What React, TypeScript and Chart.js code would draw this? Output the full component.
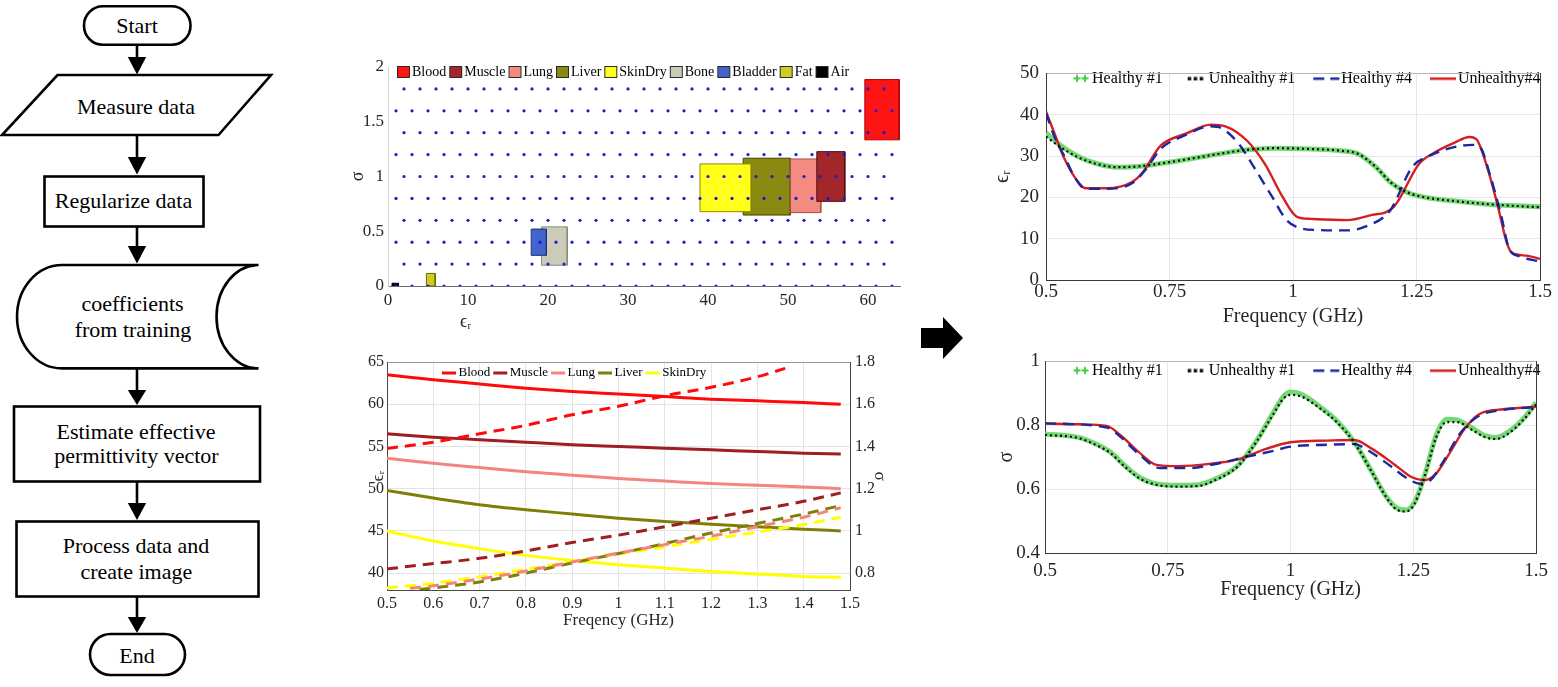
import React, { useEffect, useRef } from 'react';
import { Chart, registerables } from 'chart.js';

Chart.register(...registerables);

const SERIF = '"Liberation Serif", "Times New Roman", Times, serif';
const TXT = '#262626';
Chart.defaults.font.family = SERIF;

// ================= Chart A : tissue map (eps_r vs sigma) =================
const tissueNames = ['Blood', 'Muscle', 'Lung', 'Liver', 'SkinDry', 'Bone', 'Bladder', 'Fat', 'Air'];
const epsMin = [59.6, 53.6, 50.3, 44.4, 39.0, 19.2, 17.9, 4.8, 0.5];
const epsMax = [63.9, 57.1, 54.1, 50.3, 45.4, 22.4, 19.8, 5.9, 1.3];
const sigMin = [1.335, 0.773, 0.67, 0.648, 0.679, 0.19, 0.28, 0, 0];
const sigMax = [1.885, 1.227, 1.16, 1.167, 1.115, 0.54, 0.52, 0.115, 0.025];
const tissueFill = ['#ff1414', '#a3262a', '#f48a80', '#8a8a12', '#ffff1a', '#cbcbb8', '#4364cc', '#cccc22', '#000000'];
const tissueEdge = ['#b00000', '#4a0c0c', '#a85048', '#3f3f00', '#8a8a00', '#8a8a7a', '#1c3070', '#6a6a00', '#000000'];
const tissueLayer = [3, 1, 4, 5, 2, 7, 6, 8, 9];

const gridEvenX = [2, 4, 6, 8, 10, 12, 14, 16, 18, 20, 22, 24, 26, 28, 30, 32, 34, 36, 38, 40, 42, 44, 46, 48, 50, 52, 54, 56, 58, 60, 62];
const gridOddX = [1, 3, 5, 7, 9, 11, 13, 15, 17, 19, 21, 23, 25, 27, 29, 31, 33, 35, 37, 39, 41, 43, 45, 47, 49, 51, 53, 55, 57, 59, 61, 63];
const gridEvenRows = [1.8, 1.4, 1.0, 0.6, 0.2];
const gridOddRows = [1.6, 1.2, 0.8, 0.4, 0];
const mapXTicks = [0, 10, 20, 30, 40, 50, 60];
const mapYTicks = [0, 0.5, 1, 1.5, 2];

// ================= Chart B : tissue properties vs frequency =================
const lineTissues = ['Blood', 'Muscle', 'Lung', 'Liver', 'SkinDry'];
const lineColors = ['#ff0a0a', '#9e1e22', '#f4857c', '#7f7f08', '#ffff00'];
const freqB = [0.5, 0.6, 0.7, 0.8, 0.9, 1.0, 1.1, 1.2, 1.3, 1.4, 1.48];
const epsBlood = [63.5, 62.9, 62.4, 61.9, 61.5, 61.2, 60.9, 60.6, 60.4, 60.2, 60.0];
const epsMuscle = [56.5, 56.1, 55.8, 55.5, 55.2, 55.0, 54.8, 54.6, 54.4, 54.2, 54.1];
const epsLung = [53.6, 53.0, 52.5, 52.0, 51.6, 51.2, 50.9, 50.6, 50.4, 50.2, 50.0];
const epsLiver = [49.8, 48.9, 48.1, 47.5, 47.0, 46.5, 46.1, 45.8, 45.5, 45.2, 45.0];
const epsSkin = [45.0, 43.8, 42.9, 42.1, 41.5, 41.0, 40.6, 40.2, 39.9, 39.6, 39.5];
const freqSigBlood = [0.5, 0.6, 0.7, 0.8, 0.9, 1.0, 1.1, 1.2, 1.3, 1.36];
const sigBlood = [1.39, 1.42, 1.46, 1.5, 1.55, 1.59, 1.64, 1.68, 1.73, 1.77];
const sigMuscle = [0.82, 0.845, 0.87, 0.905, 0.945, 0.98, 1.02, 1.06, 1.1, 1.14, 1.18];
const freqSigLung = [0.55, 0.6, 0.7, 0.8, 0.9, 1.0, 1.1, 1.2, 1.3, 1.4, 1.48];
const sigLung = [0.728, 0.74, 0.772, 0.81, 0.853, 0.895, 0.935, 0.975, 1.02, 1.065, 1.11];
const freqSigLiver = [0.57, 0.6, 0.7, 0.8, 0.9, 1.0, 1.1, 1.2, 1.3, 1.4, 1.48];
const sigLiver = [0.722, 0.73, 0.758, 0.8, 0.848, 0.893, 0.94, 0.99, 1.035, 1.08, 1.12];
const sigSkin = [0.73, 0.752, 0.783, 0.818, 0.855, 0.89, 0.925, 0.96, 0.995, 1.03, 1.065];
const freqTicksB = [0.5, 0.6, 0.7, 0.8, 0.9, 1, 1.1, 1.2, 1.3, 1.4, 1.5];
const epsTicksB = [40, 45, 50, 55, 60, 65];
const sigTicksB = [0.8, 1, 1.2, 1.4, 1.6, 1.8];

// ================= Charts C/D : reconstruction results =================
const resultNames = ['Healthy #1', 'Unhealthy #1', 'Healthy #4', 'Unhealthy#4'];
const freqC1 = [0.5, 0.529, 0.565, 0.602, 0.645, 0.689, 0.732, 0.79, 0.849, 0.907, 0.965, 1.037, 1.095, 1.132, 1.168, 1.197, 1.226, 1.255, 1.328, 1.4, 1.5];
const healthy1Eps = [35.6, 32.6, 29.9, 28.2, 27.3, 27.5, 28.2, 29.3, 30.5, 31.5, 31.9, 31.7, 31.3, 30.5, 27.3, 23.7, 21.5, 20.3, 19.1, 18.3, 17.7];
const unhealthy1Eps = [34.7, 32.2, 29.7, 28.1, 27.3, 27.5, 28.2, 29.3, 30.5, 31.5, 31.9, 31.7, 31.3, 30.5, 27.3, 23.7, 21.5, 20.3, 19.1, 18.3, 17.6];
const freqC4h = [0.5, 0.518, 0.54, 0.558, 0.58, 0.623, 0.674, 0.703, 0.732, 0.783, 0.834, 0.856, 0.892, 0.921, 0.958, 0.987, 1.016, 1.052, 1.11, 1.146, 1.197, 1.241, 1.277, 1.328, 1.364, 1.379, 1.4, 1.422, 1.437, 1.459, 1.5];
const healthy4Eps = [40.4, 34.4, 29.3, 24.9, 22.1, 22.1, 23.4, 26.9, 31.7, 35.1, 37.2, 36.7, 32.7, 27.3, 20.1, 14.5, 12.5, 12.1, 12.0, 12.9, 16.9, 27.3, 30.1, 32.2, 32.7, 32.1, 24.9, 15.3, 7.7, 5.7, 4.5];
const freqC4u = [0.5, 0.518, 0.536, 0.558, 0.58, 0.623, 0.674, 0.696, 0.732, 0.783, 0.834, 0.863, 0.907, 0.943, 0.979, 1.008, 1.037, 1.11, 1.154, 1.204, 1.255, 1.284, 1.328, 1.357, 1.371, 1.393, 1.415, 1.433, 1.444, 1.473, 1.5];
const unhealthy4Eps = [40.8, 35.2, 29.7, 24.9, 22.2, 22.2, 23.7, 26.1, 32.5, 35.4, 37.6, 37.2, 33.7, 28.1, 20.1, 15.3, 14.8, 14.5, 15.6, 17.7, 28.1, 30.7, 33.3, 34.6, 34.1, 27.3, 17.7, 8.9, 6.5, 5.9, 5.1];

const freqD1 = [0.5, 0.568, 0.604, 0.633, 0.662, 0.691, 0.72, 0.77, 0.813, 0.849, 0.893, 0.929, 0.965, 0.986, 1.0, 1.022, 1.058, 1.094, 1.13, 1.166, 1.195, 1.217, 1.235, 1.253, 1.275, 1.296, 1.318, 1.339, 1.368, 1.397, 1.419, 1.447, 1.476, 1.5];
const healthy1Sig = [0.773, 0.762, 0.741, 0.716, 0.674, 0.638, 0.619, 0.612, 0.614, 0.633, 0.674, 0.747, 0.84, 0.891, 0.904, 0.897, 0.86, 0.814, 0.747, 0.653, 0.576, 0.54, 0.535, 0.56, 0.653, 0.767, 0.819, 0.817, 0.793, 0.767, 0.762, 0.783, 0.824, 0.871];
const unhealthy1Sig = [0.77, 0.76, 0.738, 0.713, 0.671, 0.635, 0.616, 0.608, 0.61, 0.63, 0.672, 0.745, 0.835, 0.884, 0.895, 0.89, 0.855, 0.81, 0.745, 0.652, 0.574, 0.535, 0.53, 0.556, 0.65, 0.76, 0.81, 0.81, 0.787, 0.762, 0.757, 0.778, 0.82, 0.865];
const freqD4h = [0.5, 0.626, 0.655, 0.691, 0.734, 0.792, 0.857, 0.907, 0.965, 1.0, 1.073, 1.13, 1.159, 1.202, 1.238, 1.264, 1.285, 1.31, 1.347, 1.383, 1.433, 1.5];
const healthy4Sig = [0.806, 0.793, 0.762, 0.71, 0.666, 0.666, 0.682, 0.7, 0.72, 0.733, 0.739, 0.741, 0.72, 0.674, 0.633, 0.617, 0.628, 0.684, 0.778, 0.829, 0.848, 0.857];
const freqD4u = [0.5, 0.568, 0.626, 0.655, 0.691, 0.727, 0.77, 0.835, 0.893, 0.95, 1.0, 1.073, 1.13, 1.166, 1.21, 1.246, 1.271, 1.296, 1.325, 1.354, 1.383, 1.433, 1.5];
const unhealthy4Sig = [0.806, 0.803, 0.798, 0.767, 0.716, 0.676, 0.672, 0.679, 0.693, 0.726, 0.747, 0.752, 0.754, 0.726, 0.679, 0.638, 0.628, 0.648, 0.716, 0.788, 0.834, 0.85, 0.858];
const freqTicksR = [0.5, 0.75, 1, 1.25, 1.5];
const epsTicksR = [0, 10, 20, 30, 40, 50];
const sigTicksR = [0.4, 0.6, 0.8, 1];

// ================= helpers =================
const pts = (xs: number[], ys: number[]) => xs.map((x, i) => ({ x, y: ys[i] }));
const setTicks = (vals: number[]) => (s: any) => { s.ticks = vals.map((v) => ({ value: v })); };
const fixW = (w: number) => (s: any) => { s.width = w; };
const fixH = (h: number) => (s: any) => { s.height = h; };

function makeMarker(W: number, H: number, pw: number, draw: (g: CanvasRenderingContext2D, x0: number, w: number, h: number) => void) {
  const c = document.createElement('canvas');
  c.width = 2 * W;
  c.height = H;
  const g = c.getContext('2d') as CanvasRenderingContext2D;
  draw(g, Math.round(W - pw / 2), W, H);
  return c;
}

function legendCfg(texts: string[], markers: HTMLCanvasElement[], fontSize: number, pw: number, pad: number) {
  return {
    display: true,
    position: 'top',
    align: 'start',
    labels: {
      usePointStyle: true,
      pointStyleWidth: pw,
      boxHeight: fontSize,
      padding: pad,
      font: { size: fontSize, family: SERIF },
      color: TXT,
      generateLabels: () =>
        texts.map((t, i) => ({
          text: t,
          pointStyle: markers[i],
          fillStyle: 'rgba(0,0,0,0)',
          strokeStyle: 'rgba(0,0,0,0)',
          lineWidth: 0,
          hidden: false,
          datasetIndex: i,
        })),
    },
  };
}

function placeLegend(dx: number, dy: number, fontSize: number, pad: number) {
  return {
    id: 'placeLegend',
    beforeLayout(chart: any) {
      const lg = chart.legend;
      if (lg && !lg._flat) {
        const fit = lg.fit;
        lg.fit = function () {
          fit.call(this);
          this.height = 0;
        };
        lg._flat = true;
      }
    },
    afterLayout(chart: any) {
      const lg = chart.legend;
      if (!lg) return;
      const ca = chart.chartArea;
      lg.left = ca.left + dx - pad;
      lg.right = chart.width + 300;
      lg.top = ca.top + dy - fontSize / 2 - pad;
      lg.bottom = lg.top + fontSize + 2 * pad + 20;
      lg.width = lg.right - lg.left;
      lg.height = lg.bottom - lg.top;
    },
  };
}

const tickFont = (size: number) => ({ size, family: SERIF });
const fmt = (v: any) => String(v);

// ================= chart builders =================
function buildMap(): any {
  const markers = tissueNames.map((_, i) =>
    makeMarker(13, 12, 8, (g, x0, w) => {
      g.fillStyle = tissueFill[i];
      g.fillRect(x0, 0.5, w, 11);
      g.strokeStyle = '#2a2a2a';
      g.lineWidth = 1;
      g.strokeRect(x0 + 0.5, 0.5, w - 1, 11);
    })
  );
  const dots = [
    ...gridEvenRows.flatMap((yv) => gridEvenX.map((xv) => ({ x: xv, y: yv }))),
    ...gridOddRows.flatMap((yv) => gridOddX.map((xv) => ({ x: xv, y: yv }))),
  ];
  const datasets: any[] = [
    { label: 'grid', data: dots, showLine: false, pointRadius: 1.6, pointBackgroundColor: '#1a1ad8', pointBorderWidth: 0, order: 0 },
  ];
  tissueNames.forEach((name, i) => {
    datasets.push({
      label: name + ' edge',
      data: [
        { x: epsMin[i], y: sigMin[i] },
        { x: epsMin[i], y: sigMax[i] },
        { x: epsMax[i], y: sigMax[i] },
        { x: epsMax[i], y: sigMin[i] },
        { x: epsMin[i], y: sigMin[i] },
      ],
      borderColor: tissueEdge[i],
      borderWidth: 1,
      pointRadius: 0,
      fill: false,
      order: tissueLayer[i],
    });
    datasets.push({
      label: name,
      data: [
        { x: epsMin[i], y: sigMax[i] },
        { x: epsMax[i], y: sigMax[i] },
      ],
      borderWidth: 0,
      pointRadius: 0,
      backgroundColor: tissueFill[i],
      fill: { value: sigMin[i] },
      order: tissueLayer[i],
    });
  });
  return {
    type: 'line',
    data: { datasets },
    options: {
      responsive: false,
      animation: false,
      devicePixelRatio: 1,
      layout: { padding: { top: 17, right: 20, left: 0, bottom: 0 } },
      plugins: { legend: legendCfg(tissueNames, markers, 14, 8, 3), tooltip: { enabled: false } },
      scales: {
        x: {
          type: 'linear',
          min: 0,
          max: 64,
          afterBuildTicks: setTicks(mapXTicks),
          afterFit: fixH(54),
          grid: { display: false, drawTicks: false },
          border: { display: true, color: '#6b6b6b', width: 1 },
          ticks: { padding: 4, font: tickFont(17), color: TXT, callback: fmt },
          title: { display: true, text: '                \u03f5\u1d63', align: 'start', font: { size: 18, family: SERIF }, color: TXT, padding: { top: 0, bottom: 7 } },
        },
        y: {
          type: 'linear',
          min: 0,
          max: 2,
          afterBuildTicks: setTicks(mapYTicks),
          afterFit: fixW(48),
          grid: { display: false, drawTicks: false },
          border: { display: true, color: '#d2d2d2', width: 1 },
          ticks: { padding: 4, font: tickFont(17), color: TXT, callback: fmt },
          title: { display: true, text: '\u03c3', font: { size: 18, family: SERIF }, color: TXT, padding: { top: 7, bottom: 0 } },
        },
      },
    },
    plugins: [placeLegend(9, 5, 14, 3)],
  };
}

function buildTissueLines(): any {
  const markers = lineColors.map((c) =>
    makeMarker(14, 6, 10, (g, x0, w) => {
      g.fillStyle = c;
      g.fillRect(x0, 1.5, w, 3);
    })
  );
  const epsSets = [epsBlood, epsMuscle, epsLung, epsLiver, epsSkin];
  const sigSets = [
    pts(freqSigBlood, sigBlood),
    pts(freqB, sigMuscle),
    pts(freqSigLung, sigLung),
    pts(freqSigLiver, sigLiver),
    pts(freqB, sigSkin),
  ];
  const datasets: any[] = [];
  lineTissues.forEach((name, i) => {
    datasets.push({
      label: name,
      data: pts(freqB, epsSets[i]),
      yAxisID: 'y',
      borderColor: lineColors[i],
      borderWidth: 3,
      pointRadius: 0,
      cubicInterpolationMode: 'monotone',
      fill: false,
      order: 1,
    });
  });
  lineTissues.forEach((name, i) => {
    datasets.push({
      label: name + ' sigma',
      data: sigSets[i],
      yAxisID: 'y1',
      borderColor: lineColors[i],
      borderWidth: 3,
      borderDash: [11, 7],
      pointRadius: 0,
      cubicInterpolationMode: 'monotone',
      fill: false,
      order: 0,
    });
  });
  return {
    type: 'line',
    data: { datasets },
    options: {
      responsive: false,
      animation: false,
      devicePixelRatio: 1,
      layout: { padding: { top: 17, right: 0, left: 0, bottom: 0 } },
      plugins: { legend: legendCfg(lineTissues, markers, 13, 10, 3), tooltip: { enabled: false } },
      scales: {
        x: {
          type: 'linear',
          min: 0.5,
          max: 1.5,
          afterBuildTicks: setTicks(freqTicksB),
          afterFit: fixH(45),
          grid: { display: true, color: '#e4e4e4', drawTicks: false },
          border: { display: true, color: '#4a4a4a', width: 1 },
          ticks: { padding: 4, font: tickFont(16), color: TXT, callback: fmt },
          title: { display: true, text: 'Freqency (GHz)', font: { size: 17, family: SERIF }, color: TXT, padding: { top: 0, bottom: 4 } },
        },
        x2: {
          type: 'linear',
          position: 'top',
          min: 0.5,
          max: 1.5,
          afterFit: fixH(0),
          grid: { display: false, drawTicks: false },
          border: { display: true, color: '#9a9a9a', width: 1 },
          ticks: { display: false },
        },
        y: {
          type: 'linear',
          position: 'left',
          min: 38,
          max: 65,
          afterBuildTicks: setTicks(epsTicksB),
          afterFit: fixW(47),
          grid: { display: true, color: '#e4e4e4', drawTicks: false },
          border: { display: true, color: '#4a4a4a', width: 1 },
          ticks: { padding: 3, font: tickFont(16), color: TXT, callback: fmt },
          title: { display: true, text: '\u03f5\u1d63', font: { size: 17, family: SERIF }, color: TXT, padding: { top: 28, bottom: 0 } },
        },
        y1: {
          type: 'linear',
          position: 'right',
          min: 0.72,
          max: 1.8,
          afterBuildTicks: setTicks(sigTicksB),
          afterFit: fixW(50),
          grid: { display: false, drawTicks: false },
          border: { display: true, color: '#4a4a4a', width: 1 },
          ticks: { padding: 5, font: tickFont(16), color: TXT, callback: fmt },
          title: { display: true, text: '\u03c3', font: { size: 17, family: SERIF }, color: TXT, padding: { top: 10, bottom: 0 } },
        },
      },
    },
    plugins: [placeLegend(55, 11, 13, 3)],
  };
}

function resultMarkers() {
  const W = 26;
  const pw = 20;
  return [
    makeMarker(W, 12, pw, (g, x0) => {
      g.strokeStyle = '#3fcf3f';
      g.lineWidth = 2;
      [x0 + 13, x0 + 21].forEach((cx) => {
        g.beginPath();
        g.moveTo(cx - 3.5, 6);
        g.lineTo(cx + 3.5, 6);
        g.moveTo(cx, 2.5);
        g.lineTo(cx, 9.5);
        g.stroke();
      });
    }),
    makeMarker(W, 12, pw, (g, x0) => {
      g.fillStyle = '#111111';
      [x0 + 7, x0 + 13, x0 + 19].forEach((cx) => g.fillRect(cx, 4.5, 3.5, 3.5));
    }),
    makeMarker(W, 12, pw, (g, x0) => {
      g.fillStyle = '#1c28a0';
      g.fillRect(x0, 5, 11, 2.5);
      g.fillRect(x0 + 17, 5, 9, 2.5);
    }),
    makeMarker(W, 12, pw, (g, x0, w) => {
      g.fillStyle = '#d42020';
      g.fillRect(x0, 5, w, 2.5);
    }),
  ];
}

function buildResult(kind: 'eps' | 'sig'): any {
  const isEps = kind === 'eps';
  const h1 = isEps ? pts(freqC1, healthy1Eps) : pts(freqD1, healthy1Sig);
  const u1 = isEps ? pts(freqC1, unhealthy1Eps) : pts(freqD1, unhealthy1Sig);
  const h4 = isEps ? pts(freqC4h, healthy4Eps) : pts(freqD4h, healthy4Sig);
  const u4 = isEps ? pts(freqC4u, unhealthy4Eps) : pts(freqD4u, unhealthy4Sig);
  const datasets = [
    { label: resultNames[0], data: h1, borderColor: '#74d874', borderWidth: 5, pointRadius: 0, cubicInterpolationMode: 'monotone', fill: false, order: 3 },
    { label: resultNames[1], data: u1, borderColor: '#0a0a0a', borderWidth: 2.2, borderDash: [2, 3], pointRadius: 0, cubicInterpolationMode: 'monotone', fill: false, order: 0 },
    { label: resultNames[2], data: h4, borderColor: '#1c28a0', borderWidth: 2.4, borderDash: [11, 7], pointRadius: 0, cubicInterpolationMode: 'monotone', fill: false, order: 1 },
    { label: resultNames[3], data: u4, borderColor: '#d42020', borderWidth: 2.4, pointRadius: 0, cubicInterpolationMode: 'monotone', fill: false, order: 2 },
  ];
  const yW = isEps ? 61 : 60;
  const xH = isEps ? 50 : 62;
  return {
    type: 'line',
    data: { datasets },
    options: {
      responsive: false,
      animation: false,
      devicePixelRatio: 1,
      layout: { padding: { top: 15, right: 15, left: 0, bottom: 0 } },
      plugins: { legend: legendCfg(resultNames, resultMarkers(), 16, 20, 18), tooltip: { enabled: false } },
      scales: {
        x: {
          type: 'linear',
          min: 0.5,
          max: 1.5,
          afterBuildTicks: setTicks(freqTicksR),
          afterFit: fixH(xH),
          grid: { display: true, color: '#e6e6e6', drawTicks: false },
          border: { display: true, color: '#3a3a3a', width: 1 },
          ticks: { padding: isEps ? 1 : 7, font: tickFont(19), color: TXT, callback: fmt },
          title: { display: true, text: 'Frequency (GHz)', font: { size: 20, family: SERIF }, color: TXT, padding: { top: 0, bottom: isEps ? 1 : 13 } },
        },
        x2: {
          type: 'linear',
          position: 'top',
          min: 0.5,
          max: 1.5,
          afterFit: fixH(0),
          grid: { display: false, drawTicks: false },
          border: { display: true, color: '#b5b5b5', width: 1 },
          ticks: { display: false },
        },
        y: {
          type: 'linear',
          position: 'left',
          min: isEps ? 0 : 0.4,
          max: isEps ? 50 : 1,
          afterBuildTicks: setTicks(isEps ? epsTicksR : sigTicksR),
          afterFit: fixW(yW),
          grid: { display: true, color: '#e6e6e6', drawTicks: false },
          border: { display: true, color: '#3a3a3a', width: 1 },
          ticks: { padding: isEps ? 7 : 5, font: tickFont(19), color: TXT, callback: fmt },
          title: { display: true, text: isEps ? '\u03f5\u1d63' : '\u03c3', font: { size: 20, family: SERIF }, color: TXT, padding: { top: isEps ? 6 : 10, bottom: 0 } },
        },
        y2: {
          type: 'linear',
          position: 'right',
          min: 0,
          max: 1,
          afterFit: fixW(0),
          grid: { display: false, drawTicks: false },
          border: { display: true, color: '#3a3a3a', width: 1 },
          ticks: { display: false },
        },
      },
    },
    plugins: [placeLegend(isEps ? 18 : 19, isEps ? 5 : 9, 16, 18)],
  };
}

// ================= components =================
function ChartCanvas({ x, y, w, h, make }: { x: number; y: number; w: number; h: number; make: () => any }) {
  const ref = useRef<HTMLCanvasElement | null>(null);
  useEffect(() => {
    if (!ref.current) return;
    const chart = new Chart(ref.current, make());
    return () => chart.destroy();
  }, []);
  return (
    <div style={{ position: 'absolute', left: x, top: y, width: w, height: h }}>
      <canvas ref={ref} width={w} height={h} style={{ display: 'block', width: w, height: h }} />
    </div>
  );
}

const flowTexts = [
  { t: 'Start', x: 137, y: 33 },
  { t: 'Measure data', x: 136, y: 114 },
  { t: 'Regularize data', x: 123.5, y: 208 },
  { t: 'coefficients', x: 132.5, y: 311 },
  { t: 'from training', x: 133, y: 337 },
  { t: 'Estimate effective', x: 136, y: 439 },
  { t: 'permittivity vector', x: 136.5, y: 463 },
  { t: 'Process data and', x: 136, y: 553 },
  { t: 'create image', x: 136.3, y: 579 },
  { t: 'End', x: 137, y: 663 },
];
const flowArrows = [
  [45.5, 57, 74.5],
  [135, 157, 174.5],
  [226.5, 246, 263.5],
  [368.5, 390, 405],
  [481.5, 503, 520],
  [596.5, 617, 633],
];

function Flowchart() {
  return (
    <svg width={285} height={687} style={{ position: 'absolute', left: 0, top: 0 }}>
      <g fill="none" stroke="#000" strokeWidth={2.6}>
        <rect x={84} y={6.3} width={106.5} height={38.5} rx={19} />
        <polygon points="57.5,75 271,75 218.5,135 2,135" />
        <rect x={44.5} y={176.5} width={159} height={50} />
        <path d="M258.5 265 L62 265 A45 51.7 0 0 0 62 368.4 L258.5 368.4 A42 51.7 0 0 1 258.5 265" />
        <rect x={14} y={406.5} width={246} height={75} />
        <rect x={16.5} y={521.5} width={242} height={75} />
        <rect x={90} y={634} width={95} height={41} rx={20.5} />
        {flowArrows.map((a, i) => (
          <line key={i} x1={137} y1={a[0]} x2={137} y2={a[1]} />
        ))}
      </g>
      <g fill="#000">
        {flowArrows.map((a, i) => (
          <polygon key={i} points={`127.8,${a[1]} 146.2,${a[1]} 137,${a[2]}`} />
        ))}
      </g>
      <g fill="#000" fontFamily={SERIF} fontSize={22} textAnchor="middle">
        {flowTexts.map((f, i) => (
          <text key={i} x={f.x} y={f.y}>
            {f.t}
          </text>
        ))}
      </g>
    </svg>
  );
}

export default function App() {
  return (
    <div style={{ position: 'absolute', left: 0, top: 0, width: 1558, height: 687, background: '#ffffff', overflow: 'hidden' }}>
      <Flowchart />
      <ChartCanvas x={340} y={50} w={580} h={290} make={buildMap} />
      <ChartCanvas x={340} y={345} w={560} h={290} make={buildTissueLines} />
      <svg width={60} height={60} style={{ position: 'absolute', left: 910, top: 308 }}>
        <polygon points="11,20 33,20 33,9 53,30 33,51 33,40 11,40" fill="#000" />
      </svg>
      <ChartCanvas x={985} y={55} w={570} h={275} make={() => buildResult('eps')} />
      <ChartCanvas x={985} y={345} w={570} h={270} make={() => buildResult('sig')} />
    </div>
  );
}
